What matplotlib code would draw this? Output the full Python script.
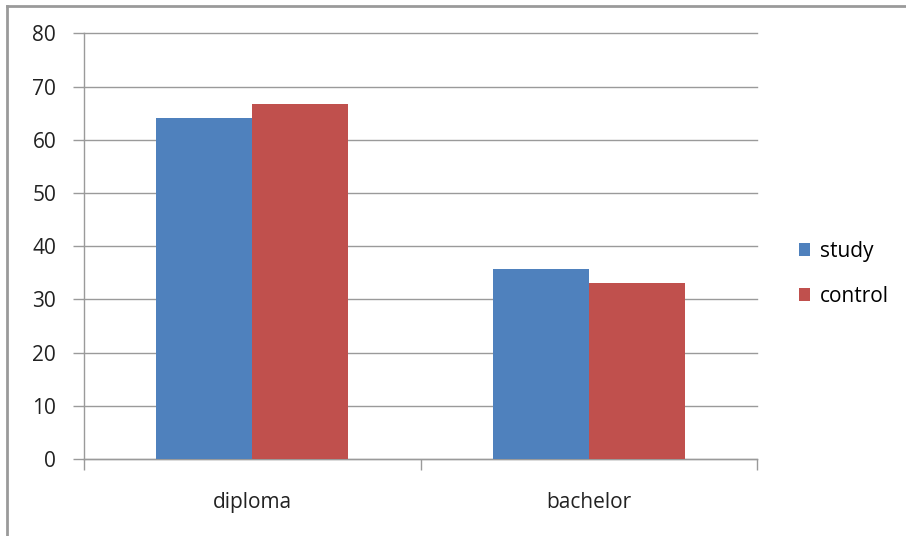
import matplotlib
matplotlib.use("Agg")
import matplotlib.pyplot as plt
from matplotlib.patches import Patch
from matplotlib.lines import Line2D
import numpy as np

categories = ["diploma", "bachelor"]
series_names = ["study", "control"]
study = [64.2, 35.7]
control = [66.8, 33.0]
yticks = [0, 10, 20, 30, 40, 50, 60, 70, 80]

colors = ["#4F81BD", "#C0504D"]
gray = "#9A9A9A"
plt.rcParams['font.family'] = ['Open Sans', 'DejaVu Sans']
fs = 15

fig = plt.figure(figsize=(9.06, 5.36), dpi=100)
ax = fig.add_axes([84/906, (536-459)/536, (757-84)/906, (459-33.5)/536])

x = np.arange(len(categories))
w = 0.285
ax.bar(x - w/2, study, w, color=colors[0], label=series_names[0], zorder=3)
ax.bar(x + w/2, control, w, color=colors[1], label=series_names[1], zorder=3)

ax.set_xlim(-0.5, len(categories) - 0.5)
ax.set_ylim(0, 80)
ax.set_yticks(yticks)
ax.set_yticklabels([str(v) for v in yticks], fontsize=fs, color="#222222")
ax.set_xticks(x)
ax.set_xticklabels(categories, fontsize=fs, color="#222222")
ax.tick_params(axis='x', length=0, pad=24)
ax.set_xticks(np.arange(len(categories) + 1) - 0.5, minor=True)
ax.tick_params(axis='x', which='minor', length=8, color=gray, width=1)
ax.tick_params(axis='y', length=8, color=gray, width=1, pad=12)
ax.yaxis.grid(True, color=gray, linewidth=1, zorder=0)
for gl in ax.yaxis.get_gridlines():
    gl.set_clip_on(False)
for s in ['top', 'right']:
    ax.spines[s].set_visible(False)
for s in ['left', 'bottom']:
    ax.spines[s].set_color(gray)
    ax.spines[s].set_linewidth(1)

handles = [Patch(facecolor=colors[0]), Patch(facecolor=colors[1])]
fig.legend(handles, series_names, loc='center left',
           bbox_to_anchor=(780/906, 1 - 274/536), frameon=False,
           fontsize=fs, handlelength=0.55, handleheight=0.55,
           handletextpad=0.45, labelspacing=1.15)

fig.add_artist(Line2D([7/906, 7/906], [0, 1 - 6/536], color=gray, linewidth=2, transform=fig.transFigure))
fig.add_artist(Line2D([7/906, 1], [1 - 6/536, 1 - 6/536], color=gray, linewidth=2, transform=fig.transFigure))

fig.savefig("out.png", dpi=100)
